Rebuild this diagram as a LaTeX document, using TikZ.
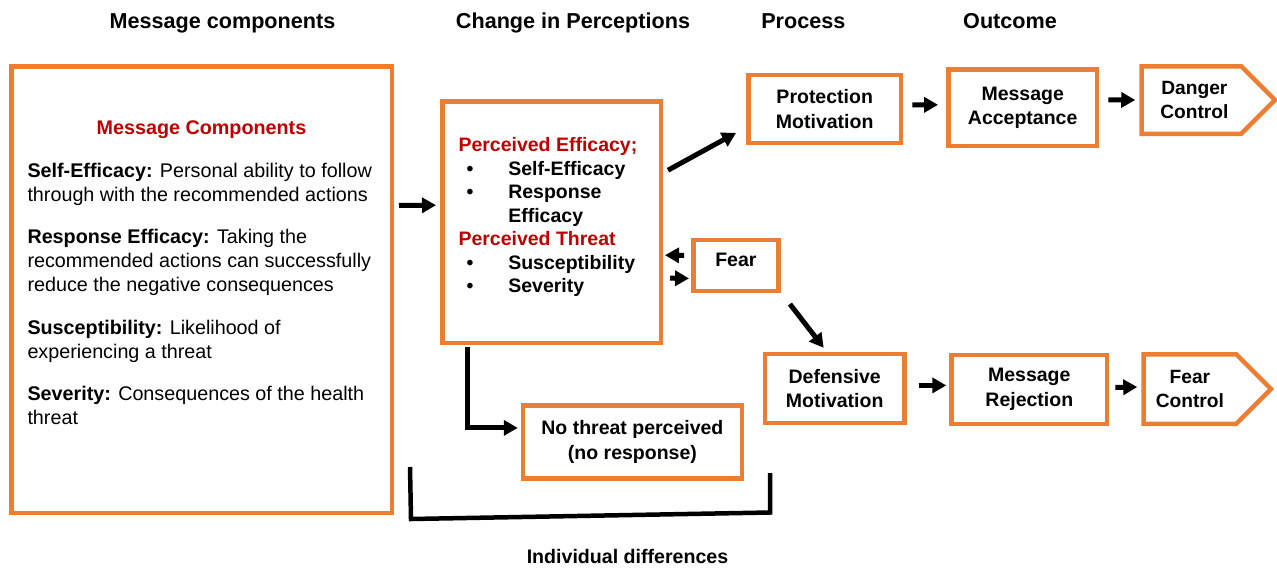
\documentclass[tikz,border=0pt]{standalone}
\usepackage{fontspec}
\setmainfont{Liberation Sans}
\usetikzlibrary{positioning, arrows.meta, shapes.symbols}
\definecolor{frameorange}{HTML}{ED7D31}
\definecolor{labelred}{HTML}{C00000}
\tikzstyle{panel} = [rectangle, line width=4.5pt, draw=frameorange, inner sep=0pt]
\tikzstyle{stage} = [rectangle, line width=4.5pt, draw=frameorange, align=center, font=\bfseries\fontsize{19.5}{24.5}\selectfont]
\tikzstyle{outcome} = [signal, signal to=east, signal pointer angle=90, line width=4.5pt, draw=frameorange, align=center, anchor=west, font=\bfseries\fontsize{19.2}{24}\selectfont]
\tikzstyle{heading} = [anchor=base, font=\bfseries\fontsize{21.6}{26}\selectfont]
\tikzstyle{arrow} = [line width=5pt, -{Triangle[length=14pt,width=15pt]}]
\tikzstyle{bracket} = [line width=4.5pt]

\begin{document}
\begin{tikzpicture}[x=1pt, y=-1pt]
    \useasboundingbox (0,0) rectangle (1277,570);
    % column titles
    \node (h1) [heading] at (222.5,28.3) {Message components};
    \node (h2) [heading] at (573,28.3) {Change in Perceptions};
    \node (h3) [heading] at (803.3,28.3) {Process};
    \node (h4) [heading] at (1010,28.3) {Outcome};
    \node (1) [panel, minimum width=380.5, minimum height=446.5] at (201.5,289.5)
      {\parbox[c][440pt][t]{348pt}{\fontsize{19.75}{24}\selectfont\vspace*{51.5pt}
        {\centering\bfseries\textcolor{labelred}{Message Components}\par}
        \parskip=18.5pt\raggedright
        \textbf{Self-Efficacy:} Personal ability to follow\\through with the recommended actions\par
        \textbf{Response Efficacy:} Taking the\\recommended actions can successfully\\reduce the negative consequences\par
        \textbf{Susceptibility:} Likelihood of\\experiencing a threat\par
        \textbf{Severity:} Consequences of the health\\threat\par}};
    \node (2) [panel, minimum width=218.5, minimum height=241.2] at (551.5,222.2)
      {\parbox[c][235pt][t]{186pt}{\vspace*{30.75pt}\bfseries\fontsize{19.5}{23.5}\selectfont
        \begin{tabular}[t]{@{\hspace{8pt}}l@{\hspace{35pt}}l@{}}
          \multicolumn{2}{@{}l@{}}{\color{labelred}Perceived Efficacy;}\\
          \textbullet & Self-Efficacy\\
          \textbullet & Response\\
                      & Efficacy\\
          \multicolumn{2}{@{}l@{}}{\color{labelred}Perceived Threat}\\
          \textbullet & Susceptibility\\
          \textbullet & Severity
        \end{tabular}}};
    \node (3) [stage, minimum width=152.8, minimum height=67.8] at (824.7,108.9) {Protection\\Motivation};
    \node (4) [stage, minimum width=148.8, minimum height=76.5] at (1022.7,107.8) {Message\\Acceptance};
    \node (5) [outcome, minimum width=133.5, minimum height=67.5] at (1139.25,100) {\hspace*{6pt}Danger\\\hspace*{6pt}Control};
    \node (6) [stage, minimum width=85.2, minimum height=50.8, text depth=12pt] at (735.9,265.4) {Fear};
    \node (7) [stage, minimum width=139.5, minimum height=68.8] at (834.7,388.4) {Defensive\\Motivation};
    \node (8) [stage, minimum width=155.5, minimum height=68.8] at (1029.3,389.4) {Message\\Rejection};
    \node (9) [outcome, minimum width=127.5, minimum height=69.5] at (1141.25,389) {Fear\\Control};
    \node (10) [stage, minimum width=218.8, minimum height=73.2] at (632.4,441.9) {No threat perceived\\(no response)};
    \node (11) [heading, font=\bfseries\fontsize{19.6}{24}\selectfont] at (627.5,563.3) {Individual differences};
    \draw [arrow] ([shift={(5,-84)}]1.east) -- ([shift={(-4,-17)}]2.west);
    \draw [arrow] ([shift={(5,-52)}]2.east) -- ([shift={(-10,24)}]3.west);
    \draw [arrow] ([shift={(9,-4)}]3.east) -- ([shift={(-8,-3)}]4.west);
    \draw [arrow] ([shift={(9,-8)}]4.east) -- ([shift={(-4,0)}]5.west);
    \draw [arrow] ([shift={(-7,-10)}]6.west) -- ([shift={(2,33)}]2.east);
    \draw [arrow] ([shift={(7,56)}]2.east) -- ([shift={(-2,13)}]6.west);
    \draw [arrow] ([shift={(54,11)}]6.south) -- ([shift={(-11,-4)}]7.north);
    \draw [arrow] ([shift={(12,-3)}]7.east) -- ([shift={(-3,-4)}]8.west);
    \draw [arrow] ([shift={(6,-2)}]8.east) -- ([shift={(-4,-2)}]9.west);
    \draw [arrow] ([shift={(-84,2)}]2.south) |- ([shift={(-3,-14)}]10.west);
    % individual differences bracket
    \draw [bracket] (410,467) -- (411,519) -- (770,512.5) -- (770,473);
\end{tikzpicture}
\end{document}
